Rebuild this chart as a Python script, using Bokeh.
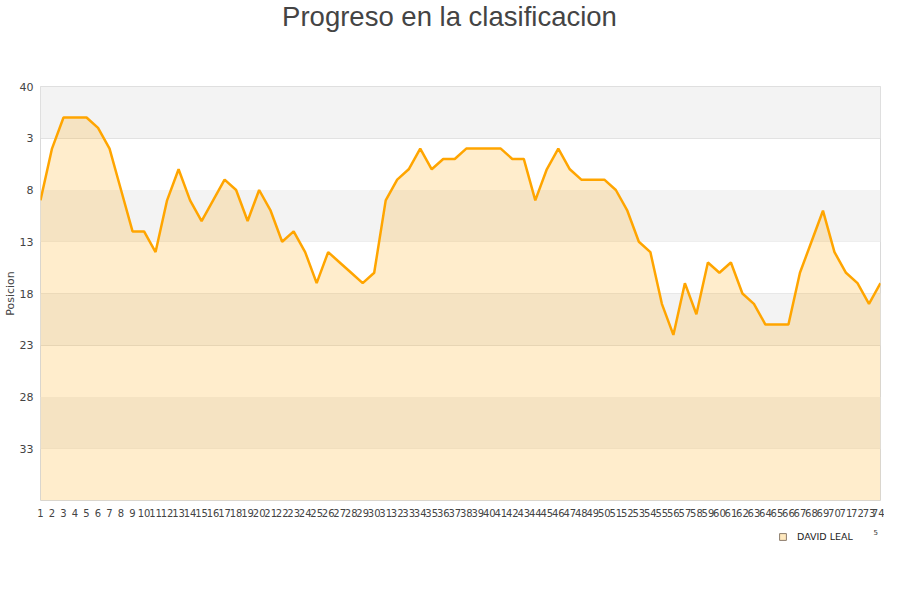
from bokeh.plotting import figure
from bokeh.layouts import column
from bokeh.models import (Range1d, FixedTicker, BoxAnnotation, Legend, LegendItem,
                          ColumnDataSource, Label)
from bokeh.embed import file_html
from bokeh.resources import INLINE

jornadas = list(range(1, 75))
posicion = [9, 4, 1, 1, 1, 2, 4, 8, 12, 12,
            14, 9, 6, 9, 11, 9, 7, 8, 11, 8,
            10, 13, 12, 14, 17, 14, 15, 16, 17, 16,
            9, 7, 6, 4, 6, 5, 5, 4, 4, 4,
            4, 5, 5, 9, 6, 4, 6, 7, 7, 7,
            8, 10, 13, 14, 19, 22, 17, 20, 15, 16,
            15, 18, 19, 21, 21, 21, 16, 13, 10, 14,
            16, 17, 19, 17]
y_ticks = [-2, 3, 8, 13, 18, 23, 28, 33]
y_tick_labels = {-2: "40"}
serie = "DAVID LEAL"
titulo = "Progreso en la clasificacion"

# title strip
tt = figure(width=884, height=78, output_backend="svg", toolbar_location=None,
            x_range=Range1d(0, 1), y_range=Range1d(0, 1),
            min_border=0, outline_line_color=None)
tt.axis.visible = False
tt.grid.visible = False
tt.add_layout(Label(x=409, y=62, x_units="screen", y_units="screen", text=titulo,
                    text_align="center", text_baseline="middle",
                    text_font="Liberation Sans", text_font_size="27.5px",
                    text_color="#444444"))

p = figure(width=884, height=444, output_backend="svg", toolbar_location=None,
           x_range=Range1d(1, 74), y_range=Range1d(38, -2),
           min_border_left=40, min_border_right=4, min_border_top=8,
           min_border_bottom=22)

# bands
for b0 in [-2, 8, 18, 28]:
    p.add_layout(BoxAnnotation(top=b0, bottom=b0 + 5, fill_color="#f3f3f3", fill_alpha=1,
                               line_color=None, level="underlay"))

src = ColumnDataSource(dict(x=jornadas, y=posicion))
p.varea(x="x", y1="y", y2=38, source=src, fill_color="#ffa500", fill_alpha=0.2)
p.line(x="x", y="y", source=src, line_color="#ffa500", line_width=2.5)

p.xgrid.grid_line_color = None
p.ygrid.grid_line_color = "#dddddd"
p.ygrid.ticker = FixedTicker(ticks=y_ticks)
p.ygrid.level = "underlay"

p.outline_line_color = "#d9d9d9"

ya = p.yaxis[0]
ya.ticker = FixedTicker(ticks=y_ticks)
ya.major_label_overrides = y_tick_labels
ya.axis_line_color = None
ya.major_tick_line_color = None
ya.minor_tick_line_color = None
ya.major_tick_out = 0
ya.major_tick_in = 0
ya.major_label_text_font = "DejaVu Sans"
ya.major_label_text_font_size = "11px"
ya.major_label_text_color = "#444444"
ya.major_label_standoff = 7
ya.axis_label = "Posicion"
ya.axis_label_text_font = "DejaVu Sans"
ya.axis_label_text_font_size = "11px"
ya.axis_label_text_font_style = "normal"
ya.axis_label_text_color = "#444444"
ya.axis_label_standoff = 0

xa = p.xaxis[0]
xa.ticker = FixedTicker(ticks=jornadas)
xa.axis_line_color = None
xa.major_tick_line_color = None
xa.minor_tick_line_color = None
xa.major_tick_out = 0
xa.major_tick_in = 0
xa.major_label_text_font = "DejaVu Sans"
xa.major_label_text_font_size = "10px"
xa.major_label_text_color = "#444444"
xa.major_label_standoff = 8

# legend strip below the chart
lg = figure(width=884, height=40, output_backend="svg", toolbar_location=None,
            x_range=Range1d(0, 1), y_range=Range1d(0, 1),
            min_border=0, outline_line_color=None)
lg.axis.visible = False
lg.grid.visible = False
dummy = lg.scatter(x=[5], y=[5], marker="square", size=8, fill_color="#ffe9bf",
                   line_color="#8c7c6c", line_width=1)
legend = Legend(items=[LegendItem(label=serie, renderers=[dummy])],
                location=(734, 17), orientation="horizontal",
                border_line_color=None, background_fill_alpha=0,
                label_text_font="DejaVu Sans", label_text_font_size="9.5px",
                label_text_color="#222222", glyph_width=17, glyph_height=17,
                label_standoff=6, margin=0, padding=4)
lg.add_layout(legend, "center")
lg.add_layout(Label(x=833, y=31, x_units="screen", y_units="screen", text="5",
                    text_font="DejaVu Sans", text_font_size="7px",
                    text_color="#333333", text_baseline="middle"))

open("out.html", "w").write(file_html(column(tt, p, lg, spacing=0), INLINE))
